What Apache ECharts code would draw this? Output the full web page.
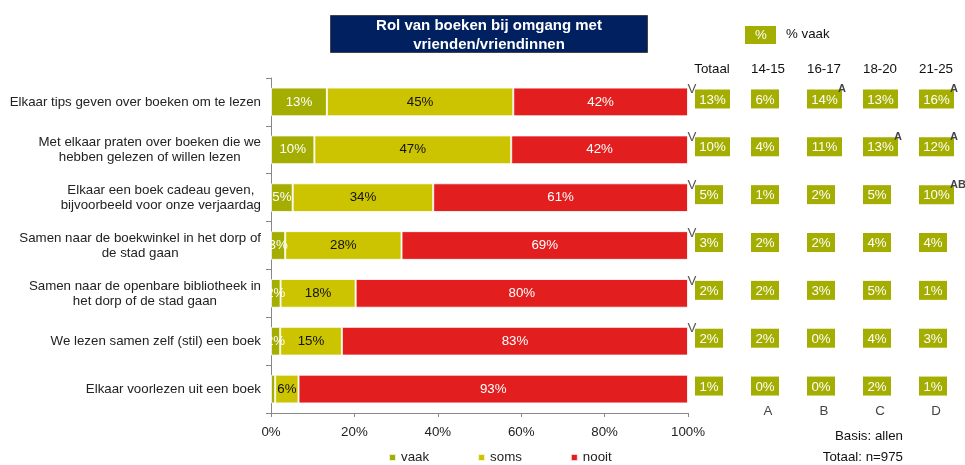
<!DOCTYPE html>
<html>
<head>
<meta charset="utf-8">
<script src="https://cdn.jsdelivr.net/npm/echarts@6/dist/echarts.min.js"></script>
<style>
    html, body { margin: 0; padding: 0; background: #fff; }
    #chart { width: 965px; height: 465px; }
</style>
</head>
<body>
<div id="chart"></div>
<script>
// categorieen (van boven naar onder)
var categories = [
    'Elkaar tips geven over boeken om te lezen',
    'Met elkaar praten over boeken die we\nhebben gelezen of willen lezen',
    'Elkaar een boek cadeau geven,\nbijvoorbeeld voor onze verjaardag',
    'Samen naar de boekwinkel in het dorp of\nde stad gaan',
    'Samen naar de openbare bibliotheek in\nhet dorp of de stad gaan',
    'We lezen samen zelf (stil) een boek',
    'Elkaar voorlezen uit een boek'
];
var vaak  = [13.4, 10.4, 5.2, 3.4, 2.3, 2.2, 1.0];
var soms  = [44.7, 47.2, 33.7, 27.9, 18.0, 14.8, 5.6];
var nooit = [41.9, 42.4, 61.1, 68.7, 79.7, 83.0, 93.4];
var xTicks = [0, 20, 40, 60, 80, 100];

// tabel % vaak per leeftijd
var columns = ['Totaal', '14-15', '16-17', '18-20', '21-25'];
var colLetters = ['', 'A', 'B', 'C', 'D'];
var totaal = [13, 10, 5, 3, 2, 2, 1];
var age1415 = [6, 4, 1, 2, 2, 2, 0];
var age1617 = [14, 11, 2, 2, 3, 0, 0];
var age1820 = [13, 13, 5, 4, 5, 4, 2];
var age2125 = [16, 12, 10, 4, 1, 3, 1];
var sigTotaal = ['V', 'V', 'V', 'V', 'V', 'V', ''];
var sig1415 = ['', '', '', '', '', '', ''];
var sig1617 = ['A', '', '', '', '', '', ''];
var sig1820 = ['', 'A', '', '', '', '', ''];
var sig2125 = ['A', 'A', 'AB', '', '', '', ''];

var FONT = '"Liberation Sans", Arial, sans-serif';
var FS = 13.3;
var cVaak = '#a4ae00', cSoms = '#ccc400', cNooit = '#e31e1e';

var tableCols = [totaal, age1415, age1617, age1820, age2125];
var tableSigs = [sigTotaal, sig1415, sig1617, sig1820, sig2125];
var tableData = [], sigData = [];
tableCols.forEach(function (col, c) {
    col.forEach(function (v, r) {
        tableData.push([c, r, v]);
        sigData.push(tableSigs[c][r]);
    });
});

function pct(p) {
    return p.value < 1.5 ? '' : Math.round(p.value) + '%';
}

function barSerie(name, data, color, labelColor) {
    return {
        name: name,
        type: 'bar',
        stack: 'totaal',
        xAxisIndex: 0,
        yAxisIndex: 0,
        barCategoryGap: '40%',
        data: data,
        itemStyle: { color: color, borderColor: 'rgba(255,255,255,0.8)', borderWidth: 1 },
        label: {
            show: true,
            position: 'inside',
            color: labelColor,
            fontFamily: FONT,
            fontSize: FS,
            formatter: pct
        }
    };
}

var option = {
    animation: false,
    textStyle: { fontFamily: FONT },
    title: {
        text: '{t|Rol van boeken bij omgang met}\n{t|vrienden/vriendinnen}',
        left: 330,
        top: 13,
        padding: [3, 0, 1, 0],
        backgroundColor: '#002060',
        borderColor: '#444',
        borderWidth: 1,
        textStyle: {
            rich: {
                t: { width: 318, align: 'center', color: '#fff', fontFamily: FONT,
                     fontSize: 15, fontWeight: 'bold', lineHeight: 19 }
            }
        }
    },
    legend: {
        left: 383,
        top: 446,
        icon: 'rect',
        itemWidth: 7,
        itemHeight: 7,
        itemGap: 48,
        textStyle: { fontFamily: FONT, fontSize: FS, color: '#222' },
        data: ['vaak', 'soms', 'nooit']
    },
    grid: [
        { left: 271, right: 277, top: 78, bottom: 52 },
        { left: 684, right: 1, top: 78, bottom: 52 }
    ],
    xAxis: [
        {
            type: 'value', gridIndex: 0, min: 0, max: 100, interval: 20,
            splitLine: { show: false },
            axisLine: { show: true, lineStyle: { color: '#888' } },
            axisTick: { show: true, length: 4, lineStyle: { color: '#888' } },
            axisLabel: { formatter: '{value}%', margin: 13, fontSize: FS, color: '#222',
                         customValues: xTicks }
        },
        {
            type: 'category', gridIndex: 1, position: 'top', data: columns,
            axisLine: { show: false }, axisTick: { show: false }, splitLine: { show: false },
            axisLabel: { margin: 2, fontSize: FS, color: '#111' }
        },
        {
            type: 'category', gridIndex: 1, position: 'bottom', data: colLetters,
            axisLine: { show: false }, axisTick: { show: false }, splitLine: { show: false },
            axisLabel: { margin: -8, fontSize: FS, color: '#444' }
        }
    ],
    yAxis: [
        {
            type: 'category', gridIndex: 0, inverse: true, data: categories,
            axisLine: { show: true, lineStyle: { color: '#888' } },
            axisTick: { show: true, length: 5, lineStyle: { color: '#888' } },
            axisLabel: {
                margin: 10,
                formatter: function (v) {
                    return v.split('\n').map(function (s) { return '{c|' + s + '}'; }).join('\n');
                },
                rich: { c: { align: 'center', fontFamily: FONT, fontSize: FS, color: '#222', lineHeight: 15 } }
            }
        },
        {
            type: 'category', gridIndex: 1, inverse: true, data: categories, show: false
        }
    ],
    series: [
        barSerie('vaak', vaak, cVaak, '#fff'),
        barSerie('soms', soms, cSoms, '#111'),
        barSerie('nooit', nooit, cNooit, '#fff'),
        {
            type: 'custom',
            xAxisIndex: 1,
            yAxisIndex: 1,
            data: tableData,
            renderItem: function (params, api) {
                var c = api.coord([api.value(0), api.value(1)]);
                var txt = api.value(2) + '%';
                var w = txt.length > 2 ? 35 : 28, h = 19;
                var x0 = c[0] - 17, y0 = c[1] - 3 - h / 2;
                var kids = [
                    { type: 'rect', shape: { x: x0, y: y0, width: w, height: h }, style: { fill: cVaak } },
                    { type: 'text', style: { text: txt, x: x0 + w / 2, y: y0 + h / 2 + 1, align: 'center',
                      verticalAlign: 'middle', fill: '#fff', font: FS + 'px ' + FONT } }
                ];
                var sig = sigData[params.dataIndex];
                if (sig === 'V') {
                    kids.push({ type: 'text', style: { text: 'V', x: x0 - 3, y: y0, align: 'center',
                        verticalAlign: 'middle', fill: '#555', font: FS + 'px ' + FONT } });
                } else if (sig) {
                    kids.push({ type: 'text', style: { text: sig, x: x0 + w - 4, y: y0, align: 'left',
                        verticalAlign: 'middle', fill: '#444', font: 'bold 11px ' + FONT } });
                }
                return { type: 'group', children: kids };
            }
        }
    ],
    graphic: [
        { type: 'rect', left: 745, top: 26, shape: { width: 31, height: 18 }, style: { fill: cVaak } },
        { type: 'text', left: 755, top: 29, style: { text: '%', fill: '#fff', font: FS + 'px ' + FONT } },
        { type: 'text', left: 786, top: 28, style: { text: '% vaak', fill: '#111', font: FS + 'px ' + FONT } },
        { type: 'text', right: 62, top: 430, style: { text: 'Basis: allen', fill: '#111', font: FS + 'px ' + FONT } },
        { type: 'text', right: 62, top: 451, style: { text: 'Totaal: n=975', fill: '#111', font: FS + 'px ' + FONT } }
    ]
};

var chart = echarts.init(document.getElementById('chart'));
chart.setOption(option);
</script>
</body>
</html>
